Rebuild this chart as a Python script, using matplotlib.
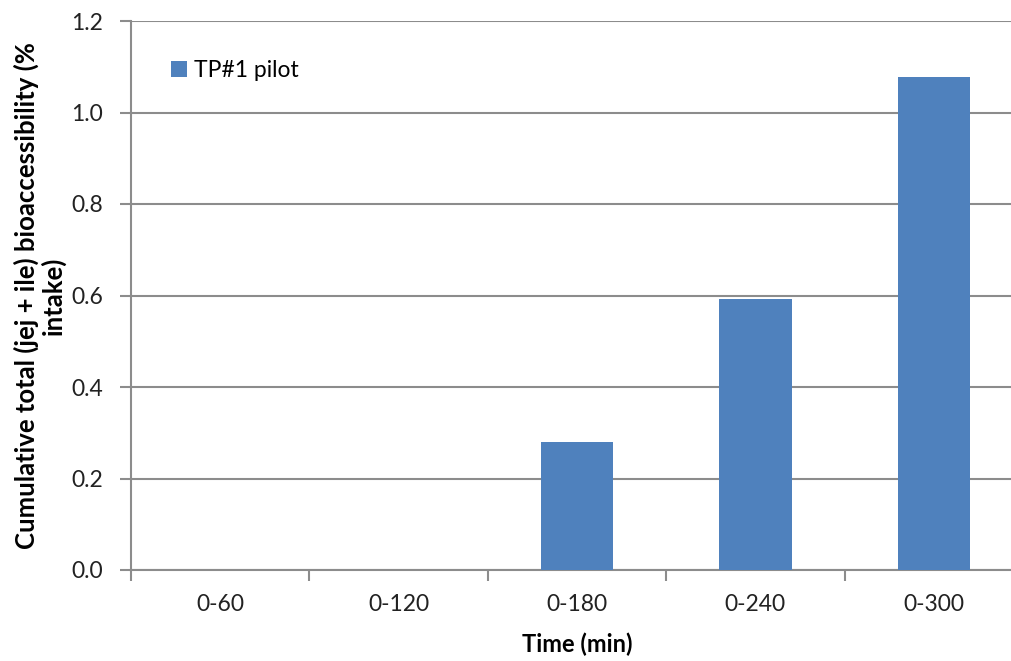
import matplotlib
matplotlib.use("Agg")
import matplotlib.pyplot as plt
import numpy as np
from matplotlib.ticker import FixedLocator, FormatStrFormatter

categories = ["0-60", "0-120", "0-180", "0-240", "0-300"]
values = [0.0, 0.0, 0.28, 0.593, 1.077]
series_name = "TP#1 pilot"
yticks = [0.0, 0.2, 0.4, 0.6, 0.8, 1.0, 1.2]

plt.rcParams['font.family'] = ['Lato', 'DejaVu Sans']
fig = plt.figure(figsize=(10.11, 6.61), dpi=100)
ax = fig.add_axes([131/1011, 91/661, 892/1011, 549/661])

x = np.arange(len(categories))
bar_color = "#4F81BD"
bars = ax.bar(x, values, width=0.405, color=bar_color, zorder=3, label=series_name)

ax.set_xlim(-0.5, len(categories) - 0.5)
ax.set_ylim(0, 1.2)
ax.set_yticks(yticks)
ax.yaxis.set_major_formatter(FormatStrFormatter('%.1f'))
ax.yaxis.grid(True, color="#8C8C8C", linewidth=1.5, zorder=0)
ax.set_axisbelow(True)

grey = "#8C8C8C"
for s in ["top", "right"]:
    ax.spines[s].set_visible(False)
for s in ["left", "bottom"]:
    ax.spines[s].set_color(grey)
    ax.spines[s].set_linewidth(1.5)

ax.set_xticks(x)
ax.set_xticklabels(categories)
ax.tick_params(axis='x', which='major', length=0, pad=17, labelsize=16.5, labelcolor="#222222")
ax.xaxis.set_minor_locator(FixedLocator(np.arange(-0.5, len(categories), 1.0)))
ax.tick_params(axis='x', which='minor', length=8, width=1.5, color=grey)
ax.tick_params(axis='y', length=8, width=1.5, color=grey, pad=12, labelsize=16.5, labelcolor="#222222")

ax.set_xlabel("Time (min)", fontsize=17, fontweight='bold', labelpad=13)
ax.set_ylabel("Cumulative total (jej + ile) bioaccessibility (%\nintake)", fontsize=18.5,
              fontweight='bold', labelpad=4, linespacing=1.05)

leg = ax.legend(loc='upper left', bbox_to_anchor=(0.035, 0.945), frameon=False,
                fontsize=16.5, handlelength=0.7, handleheight=0.7, handletextpad=0.3,
                borderaxespad=0)

fig.savefig("out.png", dpi=100)
